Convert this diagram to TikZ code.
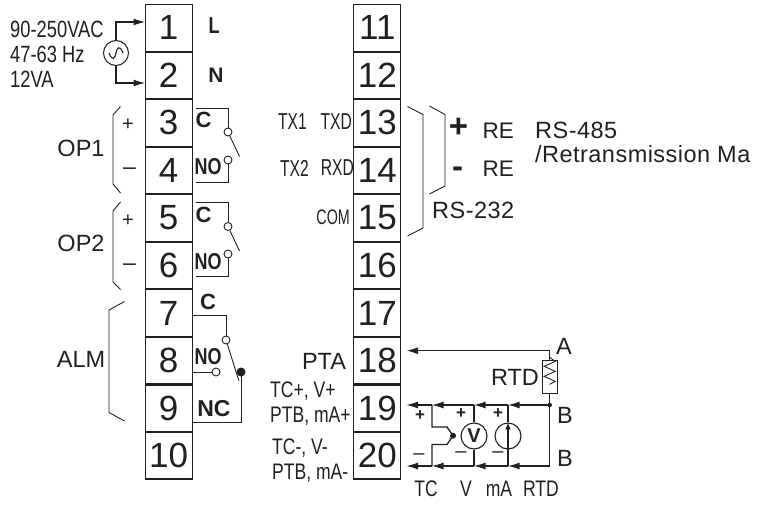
\documentclass[tikz,border=0pt]{standalone}
\usepackage{fontspec}
\setmainfont{Liberation Sans}
\newfontfamily\narrowf[FakeStretch=0.78]{Liberation Sans}
\newfontfamily\vnarrowf[FakeStretch=0.68]{Liberation Sans}
\newfontfamily\widef[LetterSpace=2]{Liberation Sans}
\usetikzlibrary{arrows.meta}
\definecolor{ink}{HTML}{231F20}
\newcommand{\fs}[1]{\fontsize{#1}{#1}\selectfont}
\tikzset{
  term/.style={draw=ink,line width=1.2pt,minimum width=47pt,minimum height=46.6pt,inner sep=0pt,text=ink,font=\fs{35}},
  wire/.style={draw=ink,line width=1.1pt},
  thin wire/.style={draw=ink,line width=0.9pt},
  arr/.style={wire,-{Latex[length=11.5pt,width=7pt]}},
  lab/.style={inner sep=0pt,text=ink,font=\fs{23.5}},
  wlab/.style={inner sep=0pt,text=ink,font=\widef\fs{23.5}},
  nlab/.style={inner sep=0pt,text=ink,font=\narrowf\fs{23.5}},
  slab/.style={inner sep=0pt,text=ink,font=\narrowf\fs{22.5}},
  vlab/.style={inner sep=0pt,text=ink,font=\vnarrowf\fs{23}},
  blab/.style={inner sep=0pt,text=ink,font=\bfseries\fs{22}},
  nblab/.style={inner sep=0pt,text=ink,font=\narrowf\bfseries\fs{23}},
  opencirc/.style={circle,draw=ink,line width=0.9pt,fill=white,minimum size=8pt,inner sep=0pt},
  soldot/.style={circle,fill=ink,inner sep=0pt},
  meter/.style={circle,draw=ink,line width=1.1pt,fill=white,minimum size=26pt,inner sep=0pt},
  brace/.style={draw=ink,line width=0.9pt}
}
\begin{document}
\begin{tikzpicture}[x=1pt,y=-1pt]
\useasboundingbox (0,0) rectangle (757,506);
% terminals
\foreach \n [count=\i from 0] in {1,...,10} {
  \node[term] (t\n) at (168.7,{27.8+47.55*\i}) {\n};
}
\foreach \n [count=\i from 0] in {11,...,20} {
  \node[term] (t\n) at (377.3,{27.8+47.55*\i}) {\n};
}
% power
\node[circle,draw=ink,line width=1pt,minimum size=25pt,inner sep=0pt] (ac) at (116,53) {};
\draw[wire] ([xshift=-7pt]ac.center) .. controls ([xshift=-3.5pt,yshift=-9pt]ac.center) and ([xshift=-1pt,yshift=-5pt]ac.center) .. (ac.center)
  .. controls ([xshift=1pt,yshift=5pt]ac.center) and ([xshift=3.5pt,yshift=9pt]ac.center) .. ([xshift=7pt]ac.center);
\coordinate (p1) at (145,22);
\coordinate (p2) at (145,83);
\draw[arr] (ac.north) |- (p1);
\draw[arr] (ac.south) |- (p2);
\node[nlab,anchor=west] (v1) at (10,29) {90-250VAC};
\node[nlab,anchor=west] (v2) at (10,54.5) {47-63 Hz};
\node[nlab,anchor=west] (v3) at (10,79.5) {12VA};
\node[nblab] (lL) at (214,26) {L};
\node[blab,font=\bfseries\fs{21}] (lN) at (216,75) {N};
% OP1
\draw[brace] (120.5,106.5) -- (113,115) -- (113,184) -- (120.5,193);
\node[lab] (op1) at (81,148) {OP1};
\node[lab,font=\fs{20}] (op1p) at (128,125) {+};
\node[lab,font=\fs{23}] (op1m) at (129.5,171) {–};
\coordinate (c1) at (195.5,108);
\coordinate (n1) at (195.5,182);
\node[opencirc] (cc1) at (228,132) {};
\node[opencirc] (cn1) at (228,160) {};
\coordinate (b1) at (239.5,156.5);
\draw[thin wire] (c1) -| (cc1.north);
\draw[thin wire] (n1) -| (cn1.south);
\draw[thin wire] (cc1) -- (b1);
\node[blab] (lc1) at (203.5,120) {C};
\node[nblab] (ln1) at (208,167) {NO};
% OP2
\draw[brace] (120.5,202) -- (113,211) -- (113,282) -- (120.5,289.5);
\node[lab] (op2) at (81,243.5) {OP2};
\node[lab,font=\fs{20}] (op2p) at (128,221) {+};
\node[lab,font=\fs{23}] (op2m) at (129.5,267) {–};
\coordinate (c2) at (195.5,202);
\coordinate (n2) at (195.5,276.7);
\node[opencirc] (cc2) at (228,226.5) {};
\node[opencirc] (cn2) at (228,254) {};
\coordinate (b2) at (239.5,251);
\draw[thin wire] (c2) -| (cc2.north);
\draw[thin wire] (n2) -| (cn2.south);
\draw[thin wire] (cc2) -- (b2);
\node[blab] (lc2) at (203.5,215) {C};
\node[nblab] (ln2) at (208,262) {NO};
% ALM
\draw[brace] (124.5,301.5) -- (109,310) -- (109,412.5) -- (124.5,421);
\node[lab] (alm) at (81,359) {ALM};
\coordinate (c3) at (192.5,315);
\coordinate (n3) at (192.5,372);
\coordinate (nc3) at (192.5,422);
\node[opencirc] (cc3) at (226,340) {};
\node[opencirc] (cn3) at (216,372) {};
\node[soldot,minimum size=9pt] (cd3) at (241,372) {};
\coordinate (b3) at (239,381);
\draw[thin wire] (c3) -| (cc3.north);
\draw[thin wire] (n3) -- (cn3.west);
\draw[thin wire] (nc3) -| (cd3.center);
\draw[thin wire] (cc3) -- (b3);
\node[blab] (lc3) at (208,302) {C};
\node[nblab] (ln3) at (208,357) {NO};
\node[blab,font=\bfseries\fs{23}] (lnc3) at (214,409) {NC};
% comms labels
\node[vlab,anchor=east] (tx1) at (307,122) {TX1};
\node[vlab,anchor=east] (txd) at (352,122) {TXD};
\node[vlab,anchor=east] (tx2) at (309,168) {TX2};
\node[vlab,anchor=east] (rxd) at (354,168) {RXD};
\node[vlab,font=\vnarrowf\fs{21},anchor=east] (com) at (350,217) {COM};
\draw[brace] (407.5,106.5) -- (423,114.5) -- (423,228) -- (407.5,236);
\draw[brace] (429.5,106) -- (445,114.5) -- (445,186) -- (429.5,194);
\node[inner sep=0pt,text=ink,font=\bfseries\fs{33}] (pl) at (458.5,128) {+};
\node[inner sep=0pt,text=ink,font=\bfseries\fs{33}] (mi) at (457.5,172) {-};
\node[lab,font=\fs{22.5},anchor=west] (re1) at (482.5,131) {RE};
\node[lab,font=\fs{22.5},anchor=west] (re2) at (482.5,168.5) {RE};
\node[wlab,anchor=west] (r485) at (535,130) {RS-485};
\node[wlab,anchor=west] (retr) at (535,154) {/Retransmission Ma};
\node[wlab,anchor=west] (r232) at (432,210) {RS-232};
% input labels
\node[lab] (pta) at (324,361) {PTA};
\node[slab,anchor=west] (l19a) at (270,391) {TC+, V+};
\node[slab,anchor=west] (l19b) at (270,416) {PTB, mA+};
\node[slab,anchor=west] (l20a) at (272,448) {TC-, V-};
\node[slab,anchor=west] (l20b) at (272,473) {PTB, mA-};
% RTD
\coordinate (a18) at (406.5,350.7);
\coordinate (a19) at (406.5,405);
\coordinate (a20) at (406.5,466);
\node[draw=ink,line width=0.9pt,minimum width=15pt,minimum height=33pt,inner sep=0pt] (rtd) at (549.7,377.3) {};
\draw[thin wire] ([yshift=3pt]rtd.north) -- ++(5.5,4) -- ++(-11,5) -- ++(11,5) -- ++(-11,5) -- ++(11,5) -- ++(-5.5,3);
\coordinate (ja) at (549.7,350.7);
\node[soldot,minimum size=4.5pt] (jb) at (549.7,405) {};
\coordinate (jc) at (549.7,466);
\draw[wire] (rtd.north) -- (ja);
\draw[arr,line width=1.4pt] (ja) -- (a18);
\draw[wire] (rtd.south) -- (jb.center) -- (jc);
\node[lab] (la) at (564,346) {A};
\node[lab] (lrtd) at (515,377) {RTD};
\node[lab] (lb1) at (565,415) {B};
\node[lab] (lb2) at (565,458) {B};
% rails with arrows
\coordinate (x19mA) at (508,405); \coordinate (x20mA) at (508,466);
\coordinate (x19V) at (474,405);  \coordinate (x20V) at (474,466);
\coordinate (x19T) at (432,405);  \coordinate (x20T) at (432,466);
\draw[arr] (jb.center) -- (x19mA);
\draw[arr] (x19mA) -- (x19V);
\draw[arr] (x19V) -- (x19T);
\draw[arr] (x19T) -- (a19);
\draw[arr] (jc) -- (x20mA);
\draw[arr] (x20mA) -- (x20V);
\draw[arr] (x20V) -- (x20T);
\draw[arr] (x20T) -- (a20);
% meters
\node[meter,font=\bfseries\fs{20},text=ink] (mv) at (474,436) {V};
\node[meter] (mi2) at (508,436) {};
\draw[wire] (x19V) -- (mv.north);
\draw[wire] (mv.south) -- (x20V);
\draw[wire] (x19mA) -- (mi2.north);
\draw[wire] (mi2.south) -- (x20mA);
\draw[draw=ink,line width=1.4pt,-{Latex[length=7pt,width=6pt]}] (mi2.south) -- (mi2.north);
% thermocouple
\node[soldot,minimum size=6pt] (tj) at (453,435.7) {};
\draw[draw=ink,line width=1.3pt] (x19T) -- (432,427) -- (447,427) -- (tj.center) -- (447,444.5) -- (432,444.5) -- (x20T);
% polarity
\node[lab,font=\bfseries\fs{17}] (tp) at (420,415.5) {+};
\node[lab,font=\bfseries\fs{17}] (vp) at (461,414) {+};
\node[lab,font=\bfseries\fs{17}] (ap) at (498,414) {+};
\node[lab,font=\fs{20}] (tm) at (419,456.5) {–};
\node[lab,font=\fs{20}] (vm) at (461,454.5) {–};
\node[lab,font=\fs{20}] (am) at (498,454.5) {–};
% bottom labels
\node[slab] (bt) at (426,488.5) {TC};
\node[slab] (bv) at (466,488.5) {V};
\node[slab] (bm) at (499,488.5) {mA};
\node[slab] (br) at (541,488.5) {RTD};
\end{tikzpicture}
\end{document}
